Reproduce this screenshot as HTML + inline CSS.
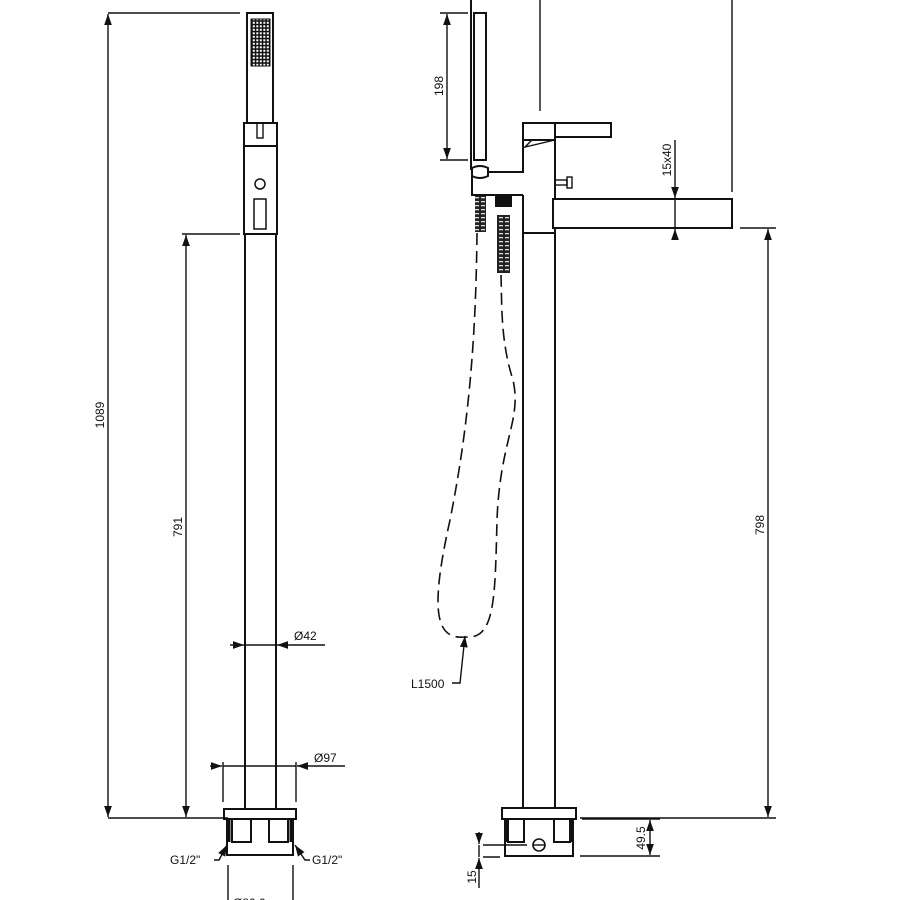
<!DOCTYPE html>
<html><head><meta charset="utf-8"><style>
html,body{margin:0;padding:0;background:#fff;}
svg{display:block;}
text{font-family:"Liberation Sans",sans-serif;font-size:12px;fill:#111;}
</style></head><body>
<svg width="900" height="900" viewBox="0 0 900 900" xmlns="http://www.w3.org/2000/svg">
<defs>
<marker id="a" viewBox="0 0 10 10" refX="10" refY="5" markerWidth="8" markerHeight="8" orient="auto-start-reverse"><path d="M0,1.5 L10,5 L0,8.5 z" fill="#111"/></marker>
<pattern id="coil" width="6" height="4" patternUnits="userSpaceOnUse"><rect width="6" height="4" fill="#222"/><rect x="1" y="1" width="4" height="1.3" fill="#ddd"/></pattern>
<pattern id="grid" width="3.5" height="3.5" patternUnits="userSpaceOnUse"><rect width="3.5" height="3.5" fill="#111"/><rect x="0.8" y="0.8" width="2" height="2" fill="#fff"/></pattern>
</defs>
<g stroke="#111" stroke-width="2" fill="none">
<!-- LEFT VIEW -->
<line x1="108" y1="13" x2="240" y2="13" stroke-width="1.4"/>
<line x1="108" y1="818" x2="228" y2="818" stroke-width="1.4"/>
<line x1="108" y1="14" x2="108" y2="817" marker-start="url(#a)" marker-end="url(#a)" stroke-width="1.4"/>
<line x1="182" y1="234" x2="240" y2="234" stroke-width="1.4"/>
<line x1="186" y1="235" x2="186" y2="817" marker-start="url(#a)" marker-end="url(#a)" stroke-width="1.4"/>
<rect x="247" y="13" width="26" height="110"/>
<rect x="251" y="19" width="19" height="47" fill="url(#grid)" stroke-width="1"/>
<rect x="244" y="123" width="33" height="23"/>
<rect x="257" y="123" width="6" height="15" stroke-width="1.4"/>
<rect x="244" y="146" width="33" height="88"/>
<circle cx="260" cy="184" r="5" stroke-width="1.5"/>
<rect x="254" y="199" width="12" height="30" stroke-width="1.5"/>
<line x1="245" y1="234" x2="245" y2="809"/>
<line x1="276" y1="234" x2="276" y2="809"/>
<line x1="230" y1="645" x2="244" y2="645" marker-end="url(#a)" stroke-width="1.4"/>
<line x1="325" y1="645" x2="277" y2="645" marker-end="url(#a)" stroke-width="1.4"/>
<line x1="244" y1="645" x2="277" y2="645" stroke-width="1.4"/>
<line x1="223" y1="762" x2="223" y2="802" stroke-width="1.4"/>
<line x1="296" y1="762" x2="296" y2="802" stroke-width="1.4"/>
<line x1="210" y1="766" x2="222" y2="766" marker-end="url(#a)" stroke-width="1.4"/>
<line x1="345" y1="766" x2="297" y2="766" marker-end="url(#a)" stroke-width="1.4"/>
<line x1="223" y1="766" x2="296" y2="766" stroke-width="1.4"/>
<rect x="224" y="809" width="72" height="10"/>
<rect x="227" y="819" width="66" height="36"/>
<rect x="232" y="819" width="19" height="23"/>
<rect x="269" y="819" width="19" height="23"/>
<line x1="229" y1="820" x2="229" y2="842" stroke-width="3"/>
<line x1="291" y1="820" x2="291" y2="842" stroke-width="3"/>
<polyline points="214,860 219,860 227,845" marker-end="url(#a)" stroke-width="1.4"/>
<polyline points="310,860 305,860 295,845" marker-end="url(#a)" stroke-width="1.4"/>
<line x1="228" y1="865" x2="228" y2="900" stroke-width="1.4"/>
<line x1="293" y1="865" x2="293" y2="900" stroke-width="1.4"/>
<!-- RIGHT VIEW -->
<line x1="540" y1="0" x2="540" y2="111" stroke-width="1.4"/>
<line x1="732" y1="0" x2="732" y2="192" stroke-width="1.4"/>
<line x1="440" y1="13" x2="468" y2="13" stroke-width="1.4"/>
<line x1="440" y1="160" x2="468" y2="160" stroke-width="1.4"/>
<line x1="447" y1="14" x2="447" y2="159" marker-start="url(#a)" marker-end="url(#a)" stroke-width="1.4"/>
<line x1="471" y1="0" x2="471" y2="170"/>
<rect x="474" y="13" width="12" height="147"/>
<path d="M472,168 Q480,164 488,168 L488,176 Q480,180 472,176 Z"/>
<polyline points="487,172 523,172 523,123 555,123 555,140 523,140"/>
<path d="M525,147 L532,140 L555,140 Z" stroke-width="1.4"/>
<rect x="555" y="123" width="56" height="14"/>
<polyline points="472,176 472,195 523,195"/>
<line x1="523" y1="195" x2="523" y2="233"/>
<line x1="555" y1="140" x2="555" y2="199"/>
<rect x="555" y="180" width="12" height="5" stroke-width="1.4"/>
<rect x="567" y="177" width="5" height="11" stroke-width="1.4"/>
<rect x="553" y="199" width="179" height="29"/>
<line x1="523" y1="233" x2="555" y2="233"/>
<line x1="523" y1="233" x2="523" y2="808"/>
<line x1="555" y1="228" x2="555" y2="808"/>
<rect x="475" y="196" width="11" height="36" fill="url(#coil)" stroke="none"/>
<rect x="495" y="195" width="17" height="12" fill="#111" stroke="none"/>
<rect x="498" y="207" width="12" height="8" fill="#fff" stroke="none"/>
<rect x="497" y="215" width="13" height="58" fill="url(#coil)" stroke="none"/>
<path d="M477,233 C476,330 470,420 450,520 C430,610 435,640 465,637 C495,640 495,600 497,520 C500,440 522,420 513,380 C500,340 502,300 501,275" stroke-dasharray="12,6" stroke-width="1.6"/>
<polyline points="452,683 460,683 465,636" marker-end="url(#a)" stroke-width="1.4"/>
<line x1="675" y1="140" x2="675" y2="198" marker-end="url(#a)" stroke-width="1.4"/>
<line x1="675" y1="240" x2="675" y2="229" marker-end="url(#a)" stroke-width="1.4"/>
<line x1="675" y1="199" x2="675" y2="228" stroke-width="1.4"/>
<line x1="740" y1="228" x2="776" y2="228" stroke-width="1.4"/>
<line x1="580" y1="818" x2="776" y2="818" stroke-width="1.4"/>
<line x1="768" y1="229" x2="768" y2="817" marker-start="url(#a)" marker-end="url(#a)" stroke-width="1.4"/>
<rect x="502" y="808" width="74" height="11"/>
<rect x="505" y="819" width="68" height="37"/>
<rect x="508" y="819" width="16" height="23"/>
<rect x="554" y="819" width="16" height="23"/>
<line x1="506" y1="820" x2="506" y2="842" stroke-width="3"/>
<line x1="572" y1="820" x2="572" y2="842" stroke-width="3"/>
<circle cx="539" cy="845" r="6" stroke-width="1.6"/>
<line x1="533" y1="845" x2="545" y2="845" stroke-width="1.4"/>
<line x1="582" y1="819" x2="660" y2="819" stroke-width="1.4"/>
<line x1="580" y1="856" x2="660" y2="856" stroke-width="1.4"/>
<line x1="650" y1="820" x2="650" y2="855" marker-start="url(#a)" marker-end="url(#a)" stroke-width="1.4"/>
<line x1="483" y1="845" x2="527" y2="845" stroke-width="1.4"/>
<line x1="483" y1="857" x2="500" y2="857" stroke-width="1.4"/>
<line x1="479" y1="832" x2="479" y2="844" marker-end="url(#a)" stroke-width="1.4"/>
<line x1="479" y1="888" x2="479" y2="858" marker-end="url(#a)" stroke-width="1.4"/>
<line x1="479" y1="845" x2="479" y2="857" stroke-width="1.4"/>
</g>
<g>
<text transform="translate(104,415) rotate(-90)" text-anchor="middle">1089</text>
<text transform="translate(182,527) rotate(-90)" text-anchor="middle">791</text>
<text x="294" y="640">Ø42</text>
<text x="314" y="762">Ø97</text>
<text x="170" y="864">G1/2"</text>
<text x="312" y="864">G1/2"</text>
<text x="233" y="907">Ø80.0</text>
<text transform="translate(443,86) rotate(-90)" text-anchor="middle">198</text>
<text transform="translate(671,160) rotate(-90)" text-anchor="middle">15x40</text>
<text transform="translate(764,525) rotate(-90)" text-anchor="middle">798</text>
<text x="411" y="688">L1500</text>
<text transform="translate(645,838) rotate(-90)" text-anchor="middle">49.5</text>
<text transform="translate(476,877) rotate(-90)" text-anchor="middle">15</text>
</g>
</svg>
</body></html>
